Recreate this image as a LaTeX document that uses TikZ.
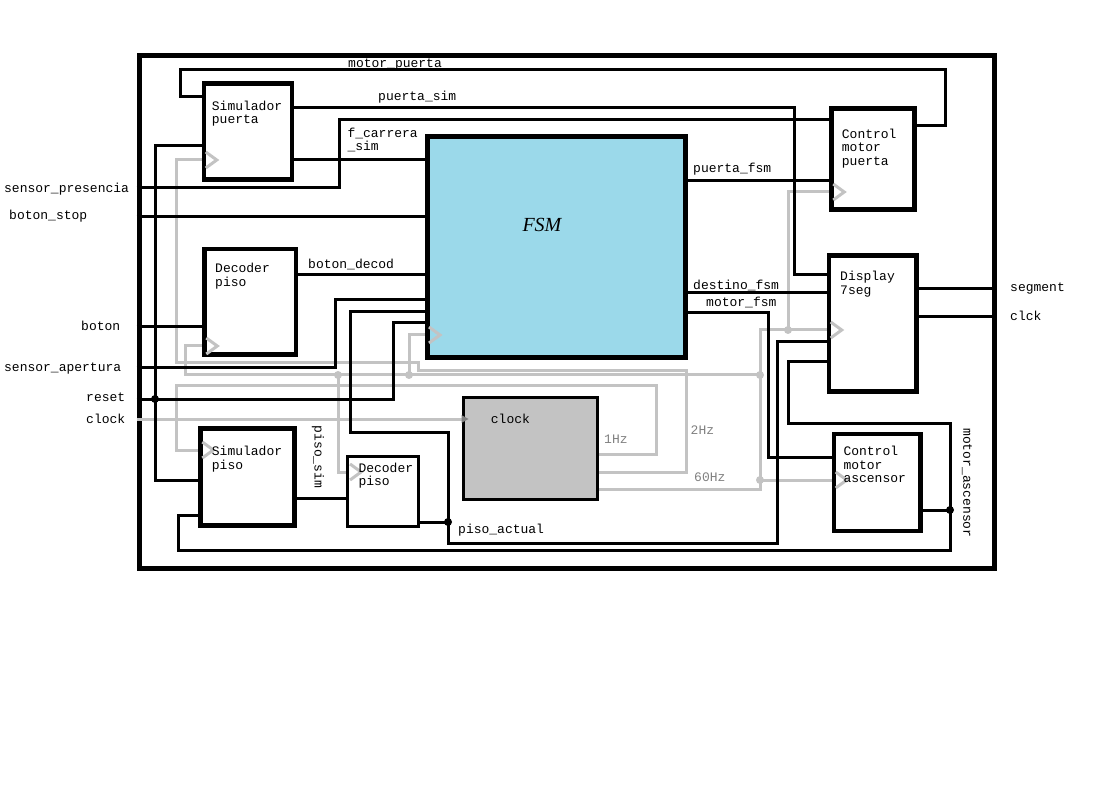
\documentclass[tikz,border=0pt]{standalone}
\usepackage{fontspec}
\setmonofont{Liberation Mono}
\newfontfamily\fsmfont{Liberation Serif}
\usetikzlibrary{arrows.meta, positioning}

\definecolor{fsmblue}{RGB}{155,217,234}
\definecolor{clkfill}{RGB}{195,195,195}
\definecolor{wiregray}{RGB}{195,195,195}
\definecolor{freqgray}{RGB}{128,128,128}

\begin{document}
\begin{tikzpicture}[
    x=1pt, y=-1pt,
    font=\ttfamily\fontsize{13}{13.3}\selectfont,
    % Outer frame of the design
    outerframe/.style={
        draw, line width=5pt, inner sep=0pt,
        minimum width=855pt, minimum height=512.4pt
    },
    % Hardware block style
    block/.style={draw, line width=4.5pt, inner sep=0pt},
    % Signal styles
    wire/.style={line width=3pt},
    clkwire/.style={line width=3pt, draw=wiregray},
    junction/.style={circle, fill=black, inner sep=0pt, minimum size=8pt},
    clkjunction/.style={junction, fill=wiregray},
    % Label styles
    sig/.style={anchor=base west, inner sep=0pt},
    freq/.style={sig, text=freqgray},
    blocktext/.style={anchor=north west, align=left, inner sep=0pt},
    % Clock input mark inside a block
    clkin/.pic={\draw[clkwire] (4,-8) -- (15,0) -- (4,8);}
]
    \useasboundingbox (0,0) rectangle (1117,794);

    % =========================================================================
    % Frame and blocks
    % =========================================================================
    \node[outerframe] (frame) at (566.7,312) {};

    \node[block, minimum width=88pt, minimum height=96pt] (simp) at (248,131.5) {};
    \node[block, line width=5pt, fill=fsmblue, minimum width=258pt, minimum height=221pt] (fsm) at (556.5,247) {};
    \node[block, minimum width=83pt, minimum height=101pt] (cmp) at (873,159) {};
    \node[block, minimum width=91.5pt, minimum height=105.5pt] (decp) at (250.3,301.7) {};
    \node[block, minimum width=87.7pt, minimum height=136pt] (disp) at (872.8,323.6) {};
    \node[block, line width=3pt, fill=clkfill, minimum width=134.6pt, minimum height=101.7pt] (clk) at (530.5,448.3) {};
    \node[block, line width=5pt, minimum width=94pt, minimum height=97.3pt] (sims) at (247.8,477.2) {};
    \node[block, line width=3.3pt, minimum width=70.6pt, minimum height=70pt] (decp2) at (383,491.7) {};
    \node[block, minimum width=86.5pt, minimum height=97pt] (cma) at (877.2,482.5) {};

    % Junction points
    \coordinate (j-rst) at (155,399);
    \coordinate (j-pa) at (448,522);
    \coordinate (j-ma) at (950,510);
    \coordinate (j-60a) at (760,480);
    \coordinate (j-60b) at (760,375);
    \coordinate (j-60c) at (788,330);
    \coordinate (j-60d) at (338,375);
    \coordinate (j-60e) at (409,375);

    % =========================================================================
    % Clock distribution (grey)
    % =========================================================================
    \draw[clkwire, -{Triangle[length=7pt, width=7pt, color=freqgray]}, shorten >=-7pt]
        (frame.west |- 0,419) -- (clk.west |- 0,419);
    % 1Hz
    \draw[clkwire] (clk.east |- 0,454) -| (656,386) -| (176,450) -- (sims.west |- 0,450);
    % 2Hz
    \draw[clkwire] (clk.east |- 0,472) -| (686,371) -| (418,363) -| (176,160) -- (simp.west |- 0,160);
    % 60Hz
    \draw[clkwire] (clk.east |- 0,489) -| (760,330) -- (disp.west |- 0,330);
    \draw[clkwire] (j-60a) -- (cma.west |- 0,480);
    \draw[clkwire] (j-60c) |- (cmp.west |- 0,192);
    \draw[clkwire] (j-60b) -| (185,346) -- (decp.west |- 0,346);
    \draw[clkwire] (j-60d) |- (decp2.west |- 0,472);
    \draw[clkwire] (j-60e) |- (fsm.west |- 0,335);

    % =========================================================================
    % Data signals
    % =========================================================================
    % motor_puerta
    \draw[wire] (cmp.east |- 0,126) -| (945,70) -| (180,97) -- (simp.west |- 0,97);
    % puerta_sim
    \draw[wire] (simp.east |- 0,108) -| (794,275) -- (disp.west |- 0,275);
    % sensor_presencia
    \draw[wire] (frame.west |- 0,188) -| (339,120) -- (cmp.west |- 0,120);
    % f_carrera_sim
    \draw[wire] (simp.east |- 0,160) -- (fsm.west |- 0,160);
    % boton_stop
    \draw[wire] (frame.west |- 0,217) -- (fsm.west |- 0,217);
    % puerta_fsm
    \draw[wire] (fsm.east |- 0,181) -- (cmp.west |- 0,181);
    % reset
    \draw[wire] (simp.west |- 0,146) -| (155,480) -- (sims.west |- 0,480);
    \draw[wire] (frame.west |- 0,399) -| (393,323) -- (fsm.west |- 0,323);
    % boton
    \draw[wire] (frame.west |- 0,327) -- (decp.west |- 0,327);
    % boton_decod
    \draw[wire] (decp.east |- 0,275) -- (fsm.west |- 0,275);
    % sensor_apertura
    \draw[wire] (frame.west |- 0,368) -| (335,300) -- (fsm.west |- 0,300);
    % destino_fsm
    \draw[wire] (fsm.east |- 0,293) -- (disp.west |- 0,293);
    % motor_fsm
    \draw[wire] (fsm.east |- 0,313) -| (768,457) -- (cma.west |- 0,457);
    % piso_sim
    \draw[wire] (sims.east |- 0,498) -- (decp2.west |- 0,498);
    % piso_actual
    \draw[wire] (decp2.east |- 0,522) -| (448,432) -| (350,312) -- (fsm.west |- 0,312);
    \draw[wire] (j-pa) |- (777,543) |- (disp.west |- 0,342);
    % motor_ascensor
    \draw[wire] (cma.east |- 0,510) -| (950,423) -| (788,362) -- (disp.west |- 0,362);
    \draw[wire] (j-ma) |- (178,550) |- (sims.west |- 0,515);
    % display outputs
    \draw[wire] (disp.east |- 0,289) -- (frame.east |- 0,289);
    \draw[wire] (disp.east |- 0,317) -- (frame.east |- 0,317);

    % Clock marks
    \pic at (simp.west |- 0,160) {clkin};
    \pic at (sims.west |- 0,450) {clkin};
    \pic at (decp.west |- 0,346) {clkin};
    \pic at (decp2.west |- 0,472) {clkin};
    \pic at (fsm.west |- 0,335) {clkin};
    \pic at (disp.west |- 0,330) {clkin};
    \pic at (cmp.west |- 0,192) {clkin};
    \pic at (cma.west |- 0,480) {clkin};

    % Junction dots
    \node[junction] at (j-rst) {};
    \node[junction] at (j-pa) {};
    \node[junction] at (j-ma) {};
    \node[clkjunction] at (j-60a) {};
    \node[clkjunction] at (j-60b) {};
    \node[clkjunction] at (j-60c) {};
    \node[clkjunction] at (j-60d) {};
    \node[clkjunction] at (j-60e) {};

    % =========================================================================
    % Block texts
    % =========================================================================
    \node[blocktext] (simp-t) at (211.7,100.6) {Simulador\\puerta};
    \node[blocktext] (cmp-t) at (841.7,128.9) {Control\\motor\\puerta};
    \node[blocktext] (decp-t) at (215,263.3) {Decoder\\piso};
    \node[blocktext] (disp-t) at (840,271.3) {Display\\7seg};
    \node[blocktext] (sims-t) at (211.7,446.3) {Simulador\\piso};
    \node[blocktext] (decp2-t) at (358.3,462.9) {Decoder\\piso};
    \node[blocktext] (cma-t) at (843.3,446.3) {Control\\motor\\ascensor};
    \node[sig] (clk-t) at (490.7,423.3) {clock};
    \node[sig, font=\fsmfont\itshape\fontsize{20}{20}\selectfont] (fsm-t) at (522.3,232) {FSM};

    % =========================================================================
    % Signal labels
    % =========================================================================
    \node[sig] (l-mp) at (348,68) {motor\_puerta};
    \node[sig] (l-ps) at (378,101) {puerta\_sim};
    \node[blocktext] (l-fc) at (347.3,128) {f\_carrera\\\_sim};
    \node[sig] (l-sp) at (4,193) {sensor\_presencia};
    \node[sig] (l-bs) at (9,220) {boton\_stop};
    \node[sig] (l-b) at (81,331) {boton};
    \node[sig] (l-sa) at (4,371) {sensor\_apertura};
    \node[sig] (l-rst) at (86,401.5) {reset};
    \node[sig] (l-clk) at (86,423) {clock};
    \node[sig] (l-bd) at (308,268.5) {boton\_decod};
    \node[sig] (l-pf) at (693,173) {puerta\_fsm};
    \node[sig] (l-df) at (693,289.5) {destino\_fsm};
    \node[sig] (l-mf) at (706,306.5) {motor\_fsm};
    \node[sig] (l-seg) at (1010,292) {segment};
    \node[sig] (l-clck) at (1010,321) {clck};
    \node[sig] (l-pa) at (458,533.5) {piso\_actual};
    \node[rotate=-90, inner sep=0pt] (l-psim) at (318,457) {piso\_sim};
    \node[rotate=-90, inner sep=0pt] (l-ma) at (967,483) {motor\_ascensor};
    \node[freq] (l-1hz) at (604,443) {1Hz};
    \node[freq] (l-2hz) at (690.5,434) {2Hz};
    \node[freq] (l-60hz) at (694,481.5) {60Hz};

\end{tikzpicture}
\end{document}
